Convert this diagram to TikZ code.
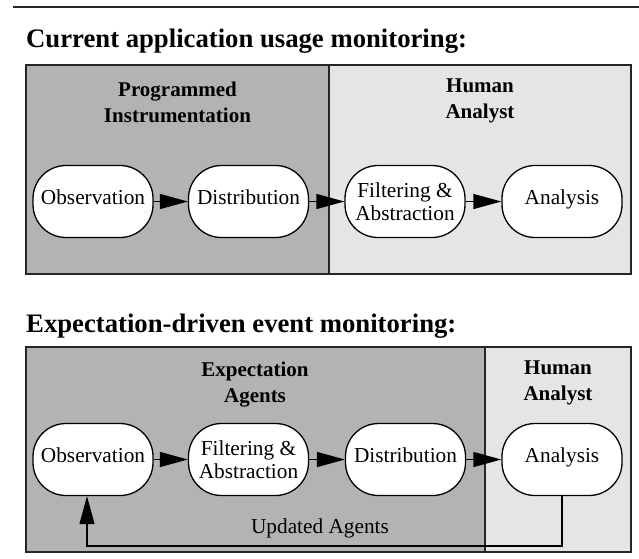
\documentclass[tikz,border=0pt]{standalone}
\usepackage{fontspec}
\setmainfont{Liberation Serif}
\usetikzlibrary{arrows.meta}
\definecolor{darkzone}{RGB}{179,179,179}
\definecolor{lightzone}{RGB}{229,229,229}
\begin{document}
\begin{tikzpicture}[x=1pt,y=-1pt,
  proc/.style={draw=black, line width=1.3pt, fill=white, rounded corners=33pt,
    minimum width=120pt, minimum height=72pt, inner sep=0pt, align=center,
    font=\fontsize{21.3}{23}\selectfont},
  one/.style={text height=12pt, text depth=6pt},
  lbl/.style={align=center, inner sep=0pt, font=\fontsize{21}{26}\selectfont\bfseries},
  ttl/.style={anchor=base west, inner sep=0pt, font=\fontsize{26.7}{30}\selectfont\bfseries},
  plain/.style={anchor=base, inner sep=0pt, font=\fontsize{21.3}{23}\selectfont},
  flow/.style={line width=1.3pt, -{Triangle[length=28pt,width=15pt]}},
  frame/.style={draw=black!85, line width=1.5pt}]
\useasboundingbox (0,0) rectangle (639,558);

% top rule
\coordinate (ruleL) at (13,7);
\coordinate (ruleR) at (639,7);
\draw[line width=1.5pt, black!85] (ruleL) -- (ruleR);

% ---------- Part 1 ----------
\node[ttl] (t1) at (26,47) {Current application usage monitoring:};
\fill[darkzone] (26,65) rectangle (329,274);
\fill[lightzone] (329,65) rectangle (631,274);
\draw[frame] (26,65) rectangle (631,274);
\draw[frame] (329,65) -- (329,274);

\node[lbl] (pi) at (177.5,102) {Programmed\\Instrumentation};
\node[lbl] (ha1) at (480,101) {Human\\Analyst};

\node[proc, one] (ob1) at (93,201.5) {Observation};
\node[proc, one] (di1) at (248.5,201.5) {Distribution};
\node[proc] (fa1) at (405,201.5) {Filtering \&\\Abstraction};
\node[proc, one] (an1) at (562,201.5) {Analysis};

\draw[flow] (ob1) -- (di1);
\draw[flow] (di1) -- (fa1);
\draw[flow] (fa1) -- (an1);

% ---------- Part 2 ----------
\node[ttl] (t2) at (26,332) {Expectation-driven event monitoring:};
\fill[darkzone] (26,347) rectangle (485,552);
\fill[lightzone] (485,347) rectangle (631,552);
\draw[frame] (26,347) rectangle (631,552);
\draw[frame] (485,347) -- (485,552);

\node[lbl] (ea) at (255,385) {Expectation\\Agents};
\node[lbl] (ha2) at (558,383) {Human\\Analyst};

\node[proc, one] (ob2) at (93,459.5) {Observation};
\node[proc] (fa2) at (248.5,459.5) {Filtering \&\\Abstraction};
\node[proc, one] (di2) at (405.5,459.5) {Distribution};
\node[proc, one] (an2) at (562,459.5) {Analysis};

\draw[flow] (ob2) -- (fa2);
\draw[flow] (fa2) -- (di2);
\draw[flow] (di2) -- (an2);

\coordinate (fbR) at (562,546);
\coordinate (fbL) at (87,546);
\draw[flow, line width=1.2pt] (an2.south) -- (fbR) -- (fbL) -- (fbL |- ob2.south);

\node[plain] (ua) at (320,533) {Updated Agents};
\end{tikzpicture}
\end{document}
